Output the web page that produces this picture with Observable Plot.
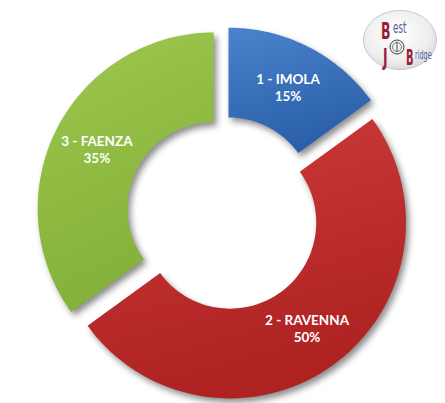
<!DOCTYPE html>
<html>
<head>
<meta charset="utf-8">
<script src="https://cdn.jsdelivr.net/npm/d3@7"></script>
<script src="https://cdn.jsdelivr.net/npm/@observablehq/plot@0.6"></script>
<style>
  html, body { margin: 0; padding: 0; background: #ffffff; }
  #wrap { position: relative; width: 445px; height: 403px; overflow: hidden; }
  #chart svg [aria-label="line"] path { filter: drop-shadow(3px 4px 3px rgba(0,0,0,0.45)); }
  #logo { position: absolute; left: 362px; top: 6px; overflow: visible; }
</style>
</head>
<body>
<div id="wrap">
  <div id="chart"></div>
  <svg id="logo" width="78" height="68" viewBox="0 -2 78 68">
    <defs>
      <radialGradient id="lg" cx="45%" cy="40%" r="65%">
        <stop offset="0%" stop-color="#ffffff"/>
        <stop offset="70%" stop-color="#eeeeee"/>
        <stop offset="100%" stop-color="#d4d4d4"/>
      </radialGradient>
    </defs>
    <ellipse cx="38" cy="32" rx="36.5" ry="29.5" fill="url(#lg)" stroke="#c8c8c8" stroke-width="1"/>
    <circle cx="35" cy="39" r="7" fill="#eeeeee" stroke="#444" stroke-width="1"/>
    <circle cx="35" cy="39" r="4.5" fill="none" stroke="#666" stroke-width="0.8"/>
    <line x1="35" y1="34" x2="35" y2="44" stroke="#555" stroke-width="1"/>
    <g font-family="DejaVu Sans Condensed, DejaVu Sans" font-weight="bold">
      <text x="19" y="31" font-size="23" fill="#9b1d3d" transform="translate(19 0) scale(0.6 1) translate(-19 0)">B</text>
      <text x="31" y="25" font-size="15" font-weight="normal" fill="#56609c" transform="translate(31 0) scale(0.65 1) translate(-31 0)">est</text>
      <text x="21" y="57" font-size="23" fill="#9b1d3d" transform="translate(21 0) scale(0.6 1) translate(-21 0)">J</text>
      <text x="44" y="57" font-size="22" fill="#9b1d3d" transform="translate(44 0) scale(0.5 1) translate(-44 0)">B</text>
      <text x="53" y="51" font-size="12" font-weight="normal" fill="#56609c" transform="translate(53 0) scale(0.6 1) translate(-53 0)">ridge</text>
    </g>
  </svg>
</div>
<script>
// ---- data ----
const cities = ["1 - IMOLA", "2 - RAVENNA", "3 - FAENZA"];
const shares = [15, 50, 35];
const percentLabels = ["15%", "50%", "35%"];
const sliceColors = [
  ["#4a83cc", "#2b5fa9"],
  ["#cd3c3b", "#ae2222"],
  ["#9fc850", "#82b038"]
];

// ---- geometry (style settings) ----
const W = 445, H = 403;
const pxPerUnit = 176;          // outer radius in pixels
const centerPx = [223, 213];
const innerRatio = 0.49;
const explode = 0.0625;
const labelRadius = 0.745;

const total = d3.sum(shares);
let cum = 0;
const slices = shares.map((v, i) => {
  const s = cum / total; cum += v; const e = cum / total;
  return {i, city: cities[i], pct: percentLabels[i], s, e, m: (s + e) / 2};
});

function slicePolygon(sl) {
  const a0 = sl.s * 2 * Math.PI, a1 = sl.e * 2 * Math.PI, am = sl.m * 2 * Math.PI;
  const ox = explode * Math.sin(am), oy = explode * Math.cos(am);
  const n = 80, pts = [];
  for (let k = 0; k <= n; k++) {
    const t = a0 + (a1 - a0) * k / n;
    pts.push({x: ox + Math.sin(t), y: oy + Math.cos(t)});
  }
  for (let k = n; k >= 0; k--) {
    const t = a0 + (a1 - a0) * k / n;
    pts.push({x: ox + innerRatio * Math.sin(t), y: oy + innerRatio * Math.cos(t)});
  }
  pts.push(pts[0]);
  return pts;
}

const labels = slices.map(sl => {
  const am = sl.m * 2 * Math.PI;
  return {
    x: (explode + labelRadius) * Math.sin(am),
    y: (explode + labelRadius) * Math.cos(am),
    text: sl.city + "\n" + sl.pct
  };
});

const defs = () => {
  const ns = "http://www.w3.org/2000/svg";
  const d = document.createElementNS(ns, "defs");
  sliceColors.forEach((c, i) => {
    const g = document.createElementNS(ns, "linearGradient");
    g.setAttribute("id", "sg" + i);
    g.setAttribute("x1", "0"); g.setAttribute("y1", "0");
    g.setAttribute("x2", "0.3"); g.setAttribute("y2", "1");
    [[0, c[0]], [1, c[1]]].forEach(([o, col]) => {
      const st = document.createElementNS(ns, "stop");
      st.setAttribute("offset", o);
      st.setAttribute("stop-color", col);
      g.appendChild(st);
    });
    d.appendChild(g);
  });
  return d;
};

const plot = Plot.plot({
  width: W,
  height: H,
  margin: 0,
  x: {domain: [-centerPx[0] / pxPerUnit, (W - centerPx[0]) / pxPerUnit], axis: null},
  y: {domain: [-(H - centerPx[1]) / pxPerUnit, centerPx[1] / pxPerUnit], axis: null},
  marks: [
    defs,
    ...slices.map(sl => Plot.line(slicePolygon(sl), {x: "x", y: "y", fill: `url(#sg${sl.i})`, stroke: "none"})),
    Plot.text(labels, {
      x: "x", y: "y", text: "text",
      fill: "white", fontWeight: "bold", fontSize: 13.5,
      fontFamily: "Lato, 'Open Sans', sans-serif", lineHeight: 1.25
    })
  ]
});
document.getElementById("chart").appendChild(plot);
</script>
</body>
</html>
